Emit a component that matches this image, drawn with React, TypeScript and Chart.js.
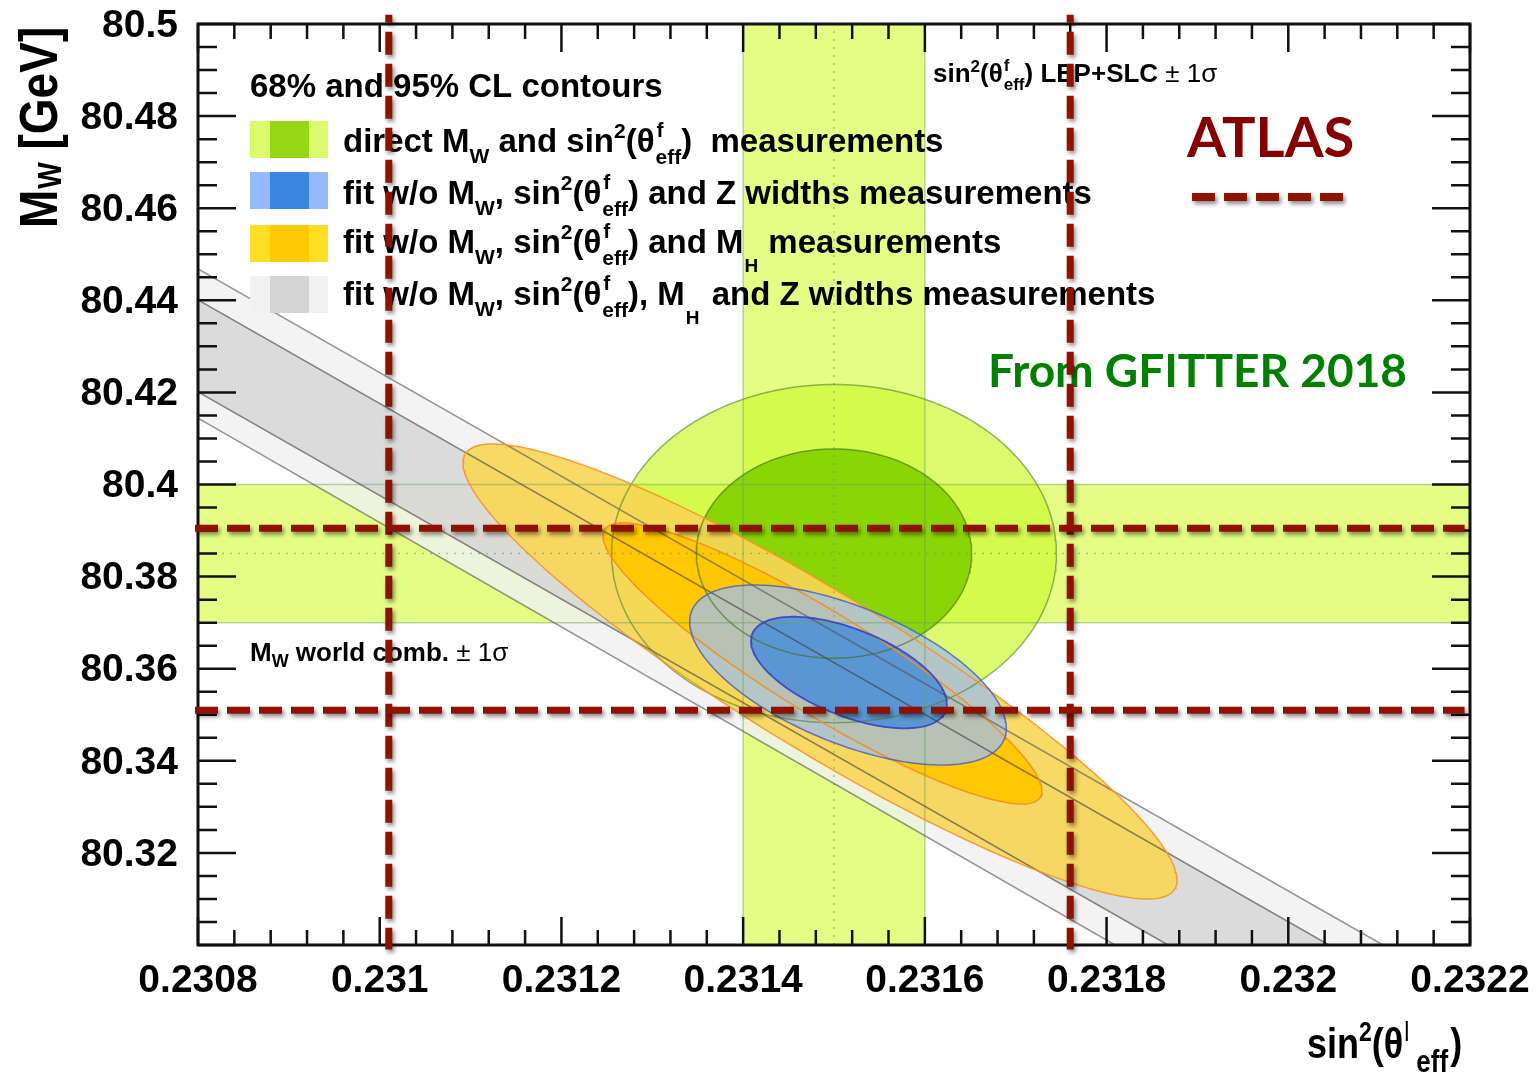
import React, { useEffect, useRef } from "react";
import { Chart, registerables } from "chart.js";

Chart.register(...registerables);

/* ---------------- axes ---------------- */
const xRange = [0.2308, 0.2322];
const yRange = [80.3, 80.5];
const xStep = 0.0002;
const yStep = 0.02;
const xMinorPerMajor = 5;
const yMinorPerMajor = 4;

/* ---------------- 1 sigma bands ---------------- */
const mwWorldBand = [80.37, 80.4];
const mwWorldCentral = [80.385];
const s2LepSlcBand = [0.2314, 0.2316];
const s2LepSlcCentral = [0.2315];

/* ---------------- contours: [centre x, centre y, x half-extent, y half-extent, correlation] ---------------- */
const directCL95 = [0.2315, 80.385, 0.0002448, 0.03672, 0];
const directCL68 = [0.2315, 80.385, 0.0001515, 0.02273, 0];
const noMwS2MhCL95 = [0.2314846, 80.35939, 0.00039292, 0.049403, -0.9165];
const noMwS2MhCL68 = [0.2314873, 80.36113, 0.00024159, 0.03051, -0.9075];
const noMwS2ZCL95 = [0.2315154, 80.35863, 0.00017423, 0.019544, -0.59];
const noMwS2ZCL68 = [0.2315165, 80.35917, 0.00010786, 0.012117, -0.566];

/* ---------------- grey band (fit w/o MW, sin2, MH and Z widths): edge end points ---------------- */
const greyOuterUpper = [[0.2308, 80.4468], [0.2321042, 80.3]];
const greyOuterLower = [[0.2308, 80.4144], [0.2318093, 80.3]];
const greyInnerUpper = [[0.2308, 80.4401], [0.2320448, 80.3]];
const greyInnerLower = [[0.2308, 80.4201], [0.2318676, 80.3]];

/* ---------------- ATLAS measurement lines ---------------- */
const atlasS2 = [0.23101, 0.23176];
const atlasMW = [80.3905, 80.351];
const atlasVLineSpan = [80.502, 80.299];
const atlasHLineSpan = [0.2307967, 0.232194];

/* ---------------- text ---------------- */
const legendHeader = "68% and 95% CL contours";
const atlasLabel = "ATLAS";
const sourceLabel = "From GFITTER 2018";

const FONT = "'Liberation Sans', Arial, Helvetica, sans-serif";
const CAL = "Lato, 'Open Sans', sans-serif";

type Part = { t: string; size?: number; dy?: number; dx?: number; noAdv?: boolean; weight?: string };

const subW: Part = { t: "W", size: 21, dy: 11, dx: 0 };
const sup2: Part = { t: "2", size: 21, dy: -14, dx: 0 };
const supF: Part = { t: "f", size: 21, dy: -15, dx: 2, noAdv: true };
const subEff: Part = { t: "eff", size: 21, dy: 12, dx: -1 };
const subH: Part = { t: "H", size: 19, dy: 19, dx: 1 };

const legendRows: { light: string; dark: string; parts: Part[] }[] = [
  {
    light: "rgb(218,251,108)",
    dark: "rgb(150,214,22)",
    parts: [{ t: "direct M" }, subW, { t: " and sin" }, sup2, { t: "(θ" }, supF, subEff, { t: ")  measurements" }],
  },
  {
    light: "rgb(148,186,252)",
    dark: "rgb(56,134,222)",
    parts: [{ t: "fit w/o M" }, subW, { t: ", sin" }, sup2, { t: "(θ" }, supF, subEff, { t: ") and Z widths measurements" }],
  },
  {
    light: "rgb(255,222,37)",
    dark: "rgb(255,202,0)",
    parts: [{ t: "fit w/o M" }, subW, { t: ", sin" }, sup2, { t: "(θ" }, supF, subEff, { t: ") and M" }, subH, { t: " measurements", dx: 1 }],
  },
  {
    light: "rgb(241,241,241)",
    dark: "rgb(212,212,212)",
    parts: [{ t: "fit w/o M" }, subW, { t: ", sin" }, sup2, { t: "(θ" }, supF, subEff, { t: "), M" }, subH, { t: " and Z widths measurements", dx: 3 }],
  },
];

const lepLabel: Part[] = [
  { t: "sin" },
  { t: "2", size: 17, dy: -10 },
  { t: "(θ" },
  { t: "f", size: 17, dy: -11, dx: 1, noAdv: true },
  { t: "eff", size: 17, dy: 8 },
  { t: ") LEP+SLC " },
  { t: "±", weight: "normal" },
  { t: " 1σ", weight: "normal" },
];
const mwLabel: Part[] = [
  { t: "M" },
  { t: "W", size: 18, dy: 6 },
  { t: " world comb. " },
  { t: "±", weight: "normal" },
  { t: " 1σ", weight: "normal" },
];
const yTitle: Part[] = [{ t: "M" }, { t: "W", size: 28, dy: 3, dx: 1 }, { t: " [GeV]" }];
const xTitle: Part[] = [
  { t: "sin" },
  { t: "2", size: 23, dy: -14 },
  { t: "(θ" },
  { t: "l", size: 23, dy: -14, dx: 1, weight: "normal" },
  { t: "eff", size: 26, dy: 12, dx: 7 },
  { t: ")", dx: 2 },
];

function drawRich(ctx: CanvasRenderingContext2D, x: number, y: number, parts: Part[], base: number, family: string, weight = "bold") {
  let cx = x;
  for (const p of parts) {
    const sz = p.size ?? base;
    ctx.font = `${p.weight ?? weight} ${sz}px ${family}`;
    cx += p.dx ?? 0;
    ctx.fillText(p.t, cx, y + (p.dy ?? 0));
    if (!p.noAdv) cx += ctx.measureText(p.t).width;
  }
  return cx;
}

/* ---------------- geometry helpers ---------------- */
function ellipsePts(c: number[]) {
  const [cx, cy, sx, sy, r] = c;
  const q = Math.sqrt(1 - r * r);
  const out: { x: number; y: number }[] = [];
  const n = 240;
  for (let i = 0; i <= n; i++) {
    const t = (2 * Math.PI * i) / n;
    out.push({ x: cx + sx * Math.cos(t), y: cy + sy * (r * Math.cos(t) + q * Math.sin(t)) });
  }
  return out;
}
const rect = (xs: number[], ys: number[]) => [
  { x: xs[0], y: ys[0] },
  { x: xs[0], y: ys[1] },
  { x: xs[1], y: ys[1] },
  { x: xs[1], y: ys[0] },
  { x: xs[0], y: ys[0] },
];
const seg = (s: number[][]) => s.map(([x, y]) => ({ x, y }));
const bandPoly = (up: number[][], low: number[][]) => seg([up[0], up[1], low[1], low[0], up[0]]);

function fillDs(data: any[], color: string) {
  return { data, showLine: true, fill: "shape", backgroundColor: color, borderColor: "rgba(0,0,0,0)", borderWidth: 0, pointRadius: 0, tension: 0 };
}
function lineDs(data: any[], color: string, width: number, dash: number[] = [], extra: any = {}) {
  return { data, showLine: true, fill: false, borderColor: color, borderWidth: width, borderDash: dash, pointRadius: 0, tension: 0, ...extra };
}

function drawDecor(chart: any) {
  const { ctx, chartArea: a, scales } = chart;
  const xs = scales.x;
  const ys = scales.y;
  ctx.save();
  // ticks
  ctx.strokeStyle = "#111";
  ctx.lineWidth = 2.5;
  ctx.beginPath();
  const nx = Math.round(((xRange[1] - xRange[0]) / xStep) * xMinorPerMajor);
  for (let i = 0; i <= nx; i++) {
    const px = xs.getPixelForValue(xRange[0] + (i * xStep) / xMinorPerMajor);
    const len = i % xMinorPerMajor === 0 ? 28 : 15;
    ctx.moveTo(px, a.bottom);
    ctx.lineTo(px, a.bottom - len);
    ctx.moveTo(px, a.top);
    ctx.lineTo(px, a.top + len);
  }
  const ny = Math.round(((yRange[1] - yRange[0]) / yStep) * yMinorPerMajor);
  for (let i = 0; i <= ny; i++) {
    const py = ys.getPixelForValue(yRange[0] + (i * yStep) / yMinorPerMajor);
    const len = i % yMinorPerMajor === 0 ? 38 : 19;
    ctx.moveTo(a.left, py);
    ctx.lineTo(a.left + len, py);
    ctx.moveTo(a.right, py);
    ctx.lineTo(a.right - len, py);
  }
  ctx.stroke();
  ctx.lineWidth = 3;
  ctx.strokeRect(a.left, a.top, a.right - a.left, a.bottom - a.top);

  // legend
  ctx.fillStyle = "#000";
  ctx.textBaseline = "alphabetic";
  ctx.textAlign = "left";
  ctx.font = `bold 33px ${FONT}`;
  ctx.fillText(legendHeader, 250, 97);
  const tops = [121, 172, 225, 276];
  const bases = [152, 204, 253, 305];
  legendRows.forEach((r, i) => {
    ctx.fillStyle = r.light;
    ctx.fillRect(250, tops[i], 78, 37);
    ctx.fillStyle = r.dark;
    ctx.fillRect(270, tops[i], 39, 37);
    ctx.fillStyle = "#000";
    drawRich(ctx, 343, bases[i], r.parts, 33, FONT);
  });

  // band labels
  drawRich(ctx, 933, 82, lepLabel, 26, FONT);
  drawRich(ctx, 250, 661, mwLabel, 26, FONT);

  // axis titles
  ctx.save();
  ctx.translate(57, 228);
  ctx.rotate(-Math.PI / 2);
  ctx.scale(1, 1.18);
  drawRich(ctx, 0, 0, yTitle, 46, FONT);
  ctx.restore();
  ctx.save();
  ctx.translate(1307, 1058);
  ctx.scale(1, 1.18);
  drawRich(ctx, 0, 0, xTitle, 36, FONT);
  ctx.restore();

  // ATLAS + source label
  ctx.fillStyle = "#860000";
  ctx.font = `bold 56px ${CAL}`;
  ctx.fillText(atlasLabel, 1187, 157);
  ctx.fillStyle = "rgb(0,128,0)";
  ctx.font = `bold 46px ${CAL}`;
  ctx.fillText(sourceLabel, 988, 387);

  ctx.shadowColor = "rgba(0,0,0,0.45)";
  ctx.shadowBlur = 4;
  ctx.shadowOffsetX = 2;
  ctx.shadowOffsetY = 3;
  ctx.strokeStyle = "#8f1200";
  ctx.lineWidth = 8;
  ctx.setLineDash([23, 9]);
  ctx.beginPath();
  ctx.moveTo(1192, 197);
  ctx.lineTo(1345, 197);
  ctx.stroke();
  ctx.restore();
}

const decorPlugin = {
  id: "decor",
  beforeDatasetDraw(chart: any, args: any) {
    const ds = chart.data.datasets[args.index];
    if (ds.frameBefore) drawDecor(chart);
    if (ds.shadow) {
      const c = chart.ctx;
      c.save();
      c.shadowColor = "rgba(0,0,0,0.45)";
      c.shadowBlur = 4;
      c.shadowOffsetX = 2;
      c.shadowOffsetY = 3;
    }
  },
  afterDatasetDraw(chart: any, args: any) {
    if (chart.data.datasets[args.index].shadow) chart.ctx.restore();
  },
};

const fmt = (v: any) => String(parseFloat(Number(v).toFixed(4)));

export default function App() {
  const ref = useRef<HTMLCanvasElement>(null);
  useEffect(() => {
    if (!ref.current) return;
    const BAND = "rgb(229,253,133)";
    const BAND_EDGE = "rgba(110,160,90,0.45)";
    const RED = "#8f1200";
    const layers: any[] = [
      fillDs(rect(xRange, mwWorldBand), BAND),
      fillDs(rect(s2LepSlcBand, yRange), BAND),
      fillDs(bandPoly(greyOuterUpper, greyOuterLower), "rgba(240,240,240,0.8)"),
      fillDs(bandPoly(greyInnerUpper, greyInnerLower), "rgba(212,212,212,0.8)"),
      fillDs(ellipsePts(directCL95), "rgba(205,248,50,0.7)"),
      fillDs(ellipsePts(directCL68), "rgba(130,208,0,0.9)"),
      fillDs(ellipsePts(noMwS2MhCL95), "rgba(247,214,85,0.9)"),
      fillDs(ellipsePts(noMwS2MhCL68), "rgba(255,198,0,0.95)"),
      fillDs(ellipsePts(noMwS2ZCL95), "rgba(165,192,225,0.8)"),
      fillDs(ellipsePts(noMwS2ZCL68), "rgba(80,145,215,0.9)"),
      lineDs(rect(xRange, mwWorldBand), BAND_EDGE, 1.5),
      lineDs(rect(s2LepSlcBand, yRange), BAND_EDGE, 1.5),
      lineDs([{ x: xRange[0], y: mwWorldCentral[0] }, { x: xRange[1], y: mwWorldCentral[0] }], "rgba(110,160,90,0.6)", 1.5, [2, 6]),
      lineDs([{ x: s2LepSlcCentral[0], y: yRange[0] }, { x: s2LepSlcCentral[0], y: yRange[1] }], "rgba(110,160,90,0.6)", 1.5, [2, 6]),
      lineDs(seg(greyOuterUpper), "rgba(80,80,80,0.6)", 1.5),
      lineDs(seg(greyOuterLower), "rgba(80,80,80,0.6)", 1.5),
      lineDs(seg(greyInnerUpper), "rgba(60,60,60,0.6)", 1.5),
      lineDs(seg(greyInnerLower), "rgba(60,60,60,0.6)", 1.5),
      lineDs(ellipsePts(directCL95), "rgba(80,130,50,0.6)", 1.5),
      lineDs(ellipsePts(directCL68), "rgba(60,110,30,0.6)", 1.5),
      lineDs(ellipsePts(noMwS2MhCL95), "rgba(245,150,40,0.9)", 1.5),
      lineDs(ellipsePts(noMwS2MhCL68), "rgba(245,140,30,0.9)", 1.5),
      lineDs(ellipsePts(noMwS2ZCL95), "rgba(70,90,190,0.8)", 1.5),
      lineDs(ellipsePts(noMwS2ZCL68), "rgba(50,60,190,0.85)", 1.8),
      lineDs([{ x: atlasS2[0], y: atlasVLineSpan[0] }, { x: atlasS2[0], y: atlasVLineSpan[1] }], RED, 7, [23, 9], { clip: false, shadow: true, frameBefore: true, borderDashOffset: 15 }),
      lineDs([{ x: atlasS2[1], y: atlasVLineSpan[0] }, { x: atlasS2[1], y: atlasVLineSpan[1] }], RED, 7, [23, 9], { clip: false, shadow: true, borderDashOffset: 15 }),
      lineDs([{ x: atlasHLineSpan[0], y: atlasMW[0] }, { x: atlasHLineSpan[1], y: atlasMW[0] }], RED, 7, [23, 9], { clip: false, shadow: true }),
      lineDs([{ x: atlasHLineSpan[0], y: atlasMW[1] }, { x: atlasHLineSpan[1], y: atlasMW[1] }], RED, 7, [23, 9], { clip: false, shadow: true }),
    ];
    layers.forEach((d, i) => (d.order = layers.length - i));

    const tickFont = { family: FONT, weight: "bold" as const, size: 39 };
    const chart = new Chart(ref.current, {
      type: "scatter",
      data: { datasets: layers },
      options: {
        responsive: false,
        animation: false,
        devicePixelRatio: 1,
        events: [],
        layout: { padding: { top: 24, right: 69, left: 0, bottom: 0 } },
        plugins: { legend: { display: false }, tooltip: { enabled: false }, title: { display: false } },
        scales: {
          x: {
            type: "linear",
            position: "bottom",
            min: xRange[0],
            max: xRange[1],
            grid: { display: false, drawTicks: false },
            border: { display: false },
            ticks: { stepSize: xStep, autoSkip: false, maxRotation: 0, minRotation: 0, padding: 13, color: "#000", font: tickFont, callback: (v: any) => fmt(v) },
            afterFit: (s: any) => {
              s.height = 135;
              s.paddingLeft = 0;
              s.paddingRight = 0;
            },
          },
          y: {
            type: "linear",
            position: "left",
            min: yRange[0],
            max: yRange[1],
            grid: { display: false, drawTicks: false },
            border: { display: false },
            ticks: {
              stepSize: yStep,
              autoSkip: false,
              padding: 20,
              labelOffset: 2,
              color: "#000",
              font: tickFont,
              callback: (v: any) => (Math.abs(Number(v) - yRange[0]) < 1e-6 ? "" : fmt(v)),
            },
            afterFit: (s: any) => {
              s.width = 198;
              s.paddingTop = 0;
              s.paddingBottom = 0;
            },
          },
        },
      } as any,
      plugins: [decorPlugin as any],
    });
    return () => chart.destroy();
  }, []);

  return (
    <div style={{ position: "absolute", left: 0, top: 0, width: 1539, height: 1080, background: "#fff" }}>
      <canvas ref={ref} width={1539} height={1080} style={{ display: "block" }} />
    </div>
  );
}
